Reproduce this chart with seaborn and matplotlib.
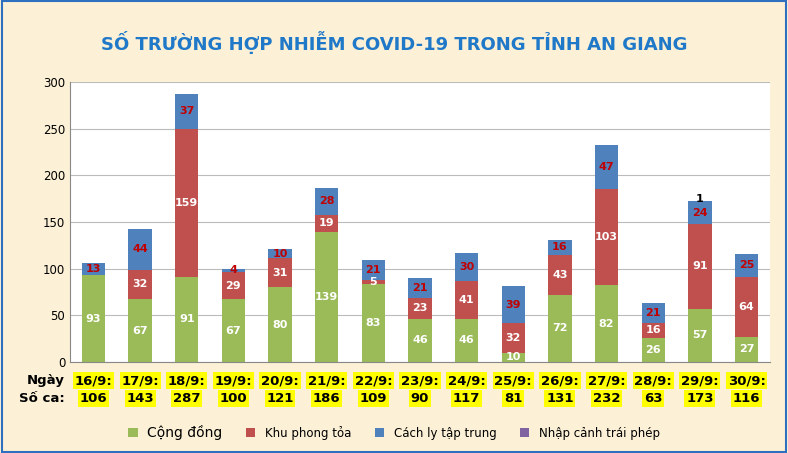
import matplotlib
matplotlib.use("Agg")
import matplotlib.pyplot as plt
import seaborn as sns
import numpy as np
import pandas as pd

days = ["16/9:", "17/9:", "18/9:", "19/9:", "20/9:", "21/9:", "22/9:", "23/9:",
        "24/9:", "25/9:", "26/9:", "27/9:", "28/9:", "29/9:", "30/9:"]
cong_dong = [93, 67, 91, 67, 80, 139, 83, 46, 46, 10, 72, 82, 26, 57, 27]
khu_phong_toa = [0, 32, 159, 29, 31, 19, 5, 23, 41, 32, 43, 103, 16, 91, 64]
cach_ly = [13, 44, 37, 4, 10, 28, 21, 21, 30, 39, 16, 47, 21, 24, 25]
nhap_canh = [0, 0, 0, 0, 0, 0, 0, 0, 0, 0, 0, 0, 0, 1, 0]
series_names = ["Cộng đồng", "Khu phong tỏa", "Cách ly tập trung", "Nhập cảnh trái phép"]
colors = ["#9BBB59", "#C0504D", "#4F81BD", "#8064A2"]
label_colors = ["white", "white", "#C00000", "black"]

fig = plt.figure(figsize=(7.88, 4.53), dpi=100)
fig.patch.set_facecolor("#FCF1D6")
border = plt.Rectangle((0.002, 0.003), 0.996, 0.994, transform=fig.transFigure,
                       fill=False, edgecolor="#2F6FBF", linewidth=1.5)
fig.patches.append(border)
ax = fig.add_axes([0.089, 0.201, 0.888, 0.618])
ax.set_facecolor("white")

series = [cong_dong, khu_phong_toa, cach_ly, nhap_canh]
bottom = np.zeros(len(days))
x = np.arange(len(days))
for vals, name, col, lc in zip(series, series_names, colors, label_colors):
    df = pd.DataFrame({"day": days, "v": vals})
    sns.barplot(data=df, x="day", y="v", color=col, width=0.5, bottom=bottom,
                ax=ax, label=name, saturation=1, edgecolor="none")
    for i, v in enumerate(vals):
        if v > 0:
            y = bottom[i] + v / 2 if v >= 3 else bottom[i] + v + 2
            ax.text(x[i], y, str(v), ha="center", va="center", fontsize=8,
                    fontweight="bold", color=lc)
    bottom = bottom + np.array(vals)

handles, labels = ax.get_legend_handles_labels()
if ax.get_legend() is not None:
    ax.get_legend().remove()

ax.set_ylim(0, 300)
ax.set_xlim(-0.5, len(days) - 0.5)
ax.set_yticks(range(0, 301, 50))
ax.yaxis.grid(True, color="#BBBBBB", linewidth=0.8)
ax.set_axisbelow(True)
ax.set_xticks([])
ax.set_xlabel("")
ax.set_ylabel("")
ax.tick_params(axis="y", labelsize=8.5, length=0)
for s in ["top", "right"]:
    ax.spines[s].set_visible(False)
ax.spines["left"].set_color("#888888")
ax.spines["bottom"].set_color("#888888")

totals = bottom.astype(int)
ax.text(-0.62, -20, "Ngày", ha="right", va="center", fontsize=9.5, fontweight="bold")
ax.text(-0.62, -39, "Số ca:", ha="right", va="center", fontsize=9.5, fontweight="bold")
for i, (d, t) in enumerate(zip(days, totals)):
    ax.text(x[i], -20, d, ha="center", va="center", fontsize=9.5, fontweight="bold",
            bbox=dict(facecolor="#FFFF00", edgecolor="none", pad=1.2), clip_on=False)
    ax.text(x[i], -39, str(t), ha="center", va="center", fontsize=9.5, fontweight="bold",
            bbox=dict(facecolor="#FFFF00", edgecolor="none", pad=1.2), clip_on=False)

fig.text(0.5, 1 - 42 / 453, "SỐ TRƯỜNG HỢP NHIỄM COVID-19 TRONG TỈNH AN GIANG",
         ha="center", va="center", fontsize=13, fontweight="bold", color="#1F78C8")

leg = fig.legend(handles, labels, loc="center", bbox_to_anchor=(0.5, 1 - 432 / 453),
                 ncol=4, frameon=False, fontsize=8.5, handlelength=0.8, handleheight=0.8,
                 columnspacing=2.0)
leg.get_texts()[0].set_fontsize(10)

fig.savefig("out.png", dpi=100, facecolor=fig.get_facecolor())
